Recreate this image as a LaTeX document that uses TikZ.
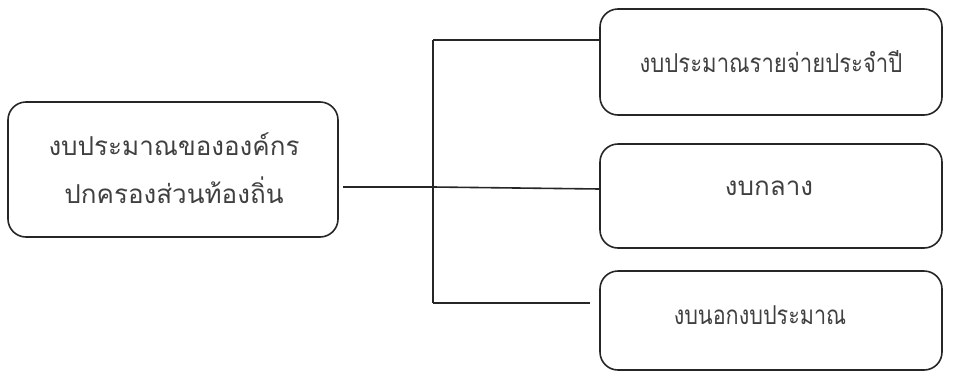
\documentclass[tikz,border=0pt]{standalone}
\usepackage{graphicx}
\usepackage{fontspec}
\newfontfamily\thaifont[Script=Thai]{Loma}
\begin{document}
\begin{tikzpicture}[x=1pt,y=-1pt,
  box/.style={draw=black!85,line width=1.6pt,rounded corners=18pt},
  conn/.style={draw=black!85,line width=1.6pt},
  lbl/.style={font=\thaifont\fontsize{26}{30}\selectfont,text=black!75}]
\useasboundingbox (0,0) rectangle (966,378);
\draw[box] (8,102) rectangle (338,237);
\node[lbl,align=center] (root) at (174,168) {งบประมาณขององค์กร\\[18pt]ปกครองส่วนท้องถิ่น};
\draw[box] (600,9) rectangle (942,115);
\draw[box] (600,144) rectangle (942,248);
\draw[box] (600,271) rectangle (942,370);
\node[lbl] (a) at (771,62) {\scalebox{0.85}[1]{งบประมาณรายจ่ายประจำปี}};
\node[lbl] (b) at (769,188) {งบกลาง};
\node[lbl] (c) at (760,315) {\scalebox{0.83}[1]{งบนอกงบประมาณ}};
\coordinate (rootE) at (343,187);
\coordinate (vt) at (433,40);
\coordinate (vm) at (433,187);
\coordinate (vb) at (433,303);
\coordinate (aW) at (600,40);
\coordinate (bW) at (600,189);
\coordinate (cW) at (590,303);
\draw[conn] (rootE) -- (vm);
\draw[conn] (vt) -- (vb);
\draw[conn] (vt) -- (aW);
\draw[conn] (vm) -- (bW);
\draw[conn] (vb) -- (cW);
\end{tikzpicture}
\end{document}
